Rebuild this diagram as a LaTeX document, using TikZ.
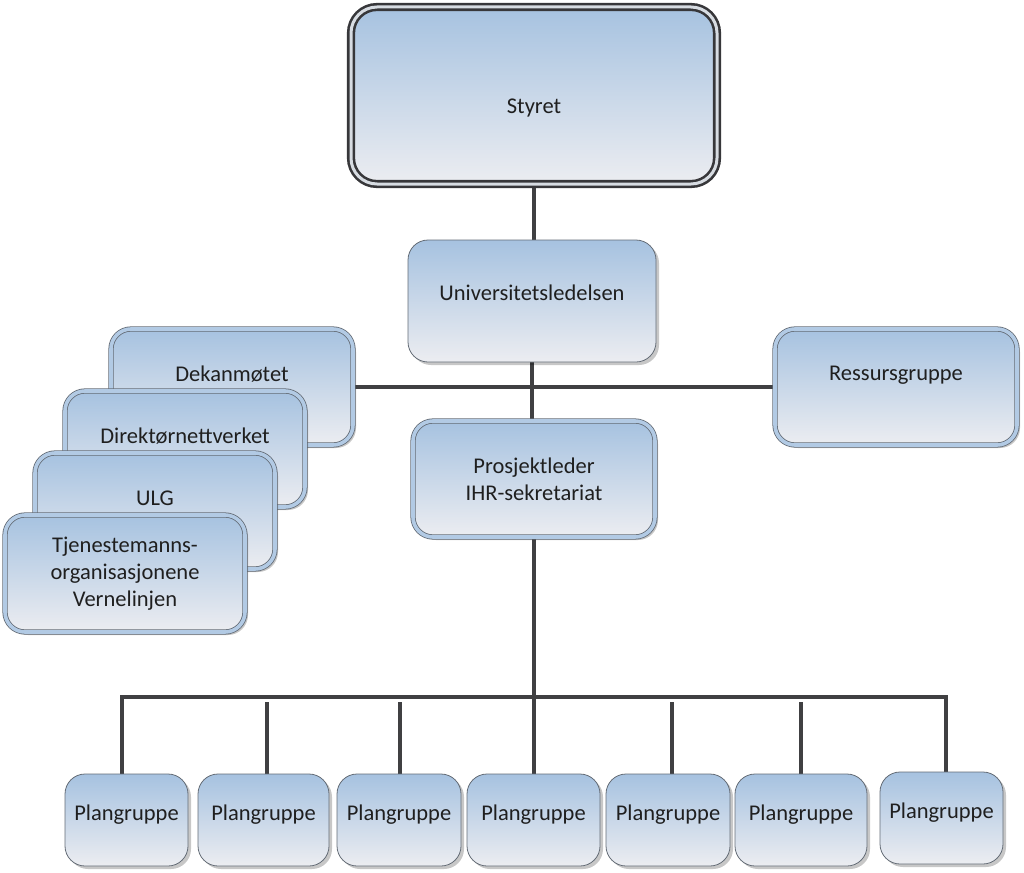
\documentclass[tikz,border=0pt]{standalone}
\usepackage{fontspec}
\setmainfont{Carlito}
\usetikzlibrary{shadows,calc}
\definecolor{boxtop}{RGB}{166,194,224}
\definecolor{boxbot}{RGB}{236,237,241}
\definecolor{boxband}{RGB}{178,202,228}
\definecolor{bordergray}{RGB}{100,108,118}
\definecolor{darkline}{RGB}{55,55,58}
\definecolor{styband}{RGB}{215,220,226}
\definecolor{linkgray}{RGB}{64,64,66}
\pgfdeclarelayer{bg}
\pgfsetlayers{bg,main}
\tikzset{
  box/.style={rectangle, rounded corners=20pt, draw=bordergray, line width=0.8pt,
    top color=boxtop, bottom color=boxbot, inner sep=0pt,
    drop shadow={shadow xshift=3pt, shadow yshift=-3pt, fill=black, opacity=0.22}},
  dbox/.style={box, double=boxband, double distance=3.6pt},
  sbox/.style={box, rounded corners=26pt, draw=darkline, line width=2.6pt,
    double=styband, double distance=3pt},
  lbl/.style={font=\fontsize{22.5}{27}\selectfont, align=center, text=black!88, inner sep=0pt},
  link/.style={draw=linkgray, line width=4pt},
}
\begin{document}
\begin{tikzpicture}[x=1pt,y=-1pt]
\useasboundingbox (0,0) rectangle (1024,872);

% top
\node[sbox, minimum width=366, minimum height=177] (sty) at (534,95.5) {};
\node[lbl] (styt) at (534,108) {Styret};

\node[box, minimum width=248, minimum height=122] (u) at (532,301) {};
\node[lbl] (ut) at (532,293) {Universitetsledelsen};

\node[dbox, minimum width=242, minimum height=116] (p) at (534,479) {};
\node[lbl] (pt) at (534,479) {Prosjektleder\\IHR-sekretariat};

\node[dbox, minimum width=242, minimum height=116] (res) at (896,387) {};
\node[lbl] (rest) at (896,375) {Ressursgruppe};

% stacked left
\node[dbox, minimum width=242, minimum height=116] (dek) at (232,387) {};
\node[lbl] (dekt) at (232,374) {Dekanmøtet};
\node[dbox, minimum width=240, minimum height=116] (dir) at (185,449) {};
\node[lbl] (dirt) at (185,436) {Direktørnettverket};
\node[dbox, minimum width=240, minimum height=116] (ulg) at (155,511) {};
\node[lbl] (ulgt) at (155,498) {ULG};
\node[dbox, minimum width=240, minimum height=117] (tje) at (125,573.5) {};
\node[lbl] (tjet) at (125,574) {Tjenestemanns-\\organisasjonene\\Vernelinjen};

% plangrupper
\node[box, minimum width=123, minimum height=92] (g1) at (126.5,820) {};
\node[box, minimum width=131, minimum height=92] (g2) at (263.5,820) {};
\node[box, minimum width=124, minimum height=92] (g3) at (399,820) {};
\node[box, minimum width=133, minimum height=92] (g4) at (533.5,820) {};
\node[box, minimum width=124, minimum height=92] (g5) at (668,820) {};
\node[box, minimum width=132, minimum height=92] (g6) at (801,820) {};
\node[box, minimum width=123, minimum height=92] (g7) at (941.5,818) {};
\node[lbl] (g1t) at (126.5,815) {Plangruppe};
\node[lbl] (g2t) at (263.5,815) {Plangruppe};
\node[lbl] (g3t) at (399,815) {Plangruppe};
\node[lbl] (g4t) at (533.5,815) {Plangruppe};
\node[lbl] (g5t) at (668,815) {Plangruppe};
\node[lbl] (g6t) at (801,815) {Plangruppe};
\node[lbl] (g7t) at (941.5,813) {Plangruppe};

\coordinate (bus) at (535,697);
\coordinate (bus2) at (535,702);

\begin{pgfonlayer}{bg}
\draw[link] (sty.south) -- (sty.south |- u.north);
\draw[link] (u.south) -- (u.south |- p.north);
\draw[link] (dek.east) -- (res.west);
\draw[link] (p.south) -- (p.south |- g4.north);
\draw[link] ([xshift=-4.5pt]g1.north) -- ([xshift=-4.5pt]g1.north |- bus)
  -- ([xshift=4.5pt]g7.north |- bus) -- ([xshift=4.5pt]g7.north);
\draw[link] ([xshift=3.5pt]g2.north |- bus2) -- ([xshift=3.5pt]g2.north);
\draw[link] ([xshift=1pt]g3.north |- bus2) -- ([xshift=1pt]g3.north);
\draw[link] ([xshift=4pt]g5.north |- bus2) -- ([xshift=4pt]g5.north);
\draw[link] (g6.north |- bus2) -- (g6.north);
\end{pgfonlayer}
\end{tikzpicture}
\end{document}
